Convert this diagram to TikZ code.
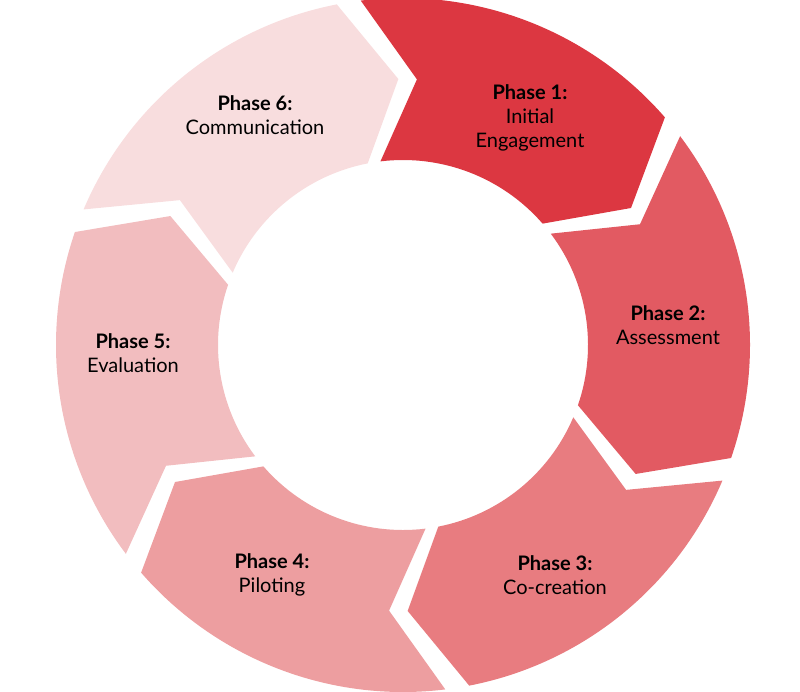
\documentclass[tikz,border=0pt]{standalone}
\usepackage{fontspec}
\setmainfont{Lato}
\definecolor{c1}{RGB}{220,55,65}
\definecolor{c2}{RGB}{226,90,98}
\definecolor{c3}{RGB}{232,124,128}
\definecolor{c4}{RGB}{237,158,160}
\definecolor{c5}{RGB}{242,189,191}
\definecolor{c6}{RGB}{248,221,222}
\tikzset{lbl/.style={align=center,font=\fontsize{20}{24}\selectfont}}
\begin{document}
\begin{tikzpicture}[x=1pt,y=1pt]
\useasboundingbox (0,0) rectangle (800,-691);
\def\R{347}\def\r{185}\def\m{266}\def\d{10}
\foreach \k/\col in {1/c1,2/c2,3/c3,4/c4,5/c5,6/c6}{
  \pgfmathsetmacro\a{97-60*(\k-1)}
  \pgfmathsetmacro\b{\a-56}
  \pgfmathsetmacro\an{\a-\d}
  \pgfmathsetmacro\bn{\b-\d}
  \fill[\col,shift={(403,-345)}] (\a:\R) arc[start angle=\a,end angle=\b,radius=\R] -- (\bn:\m) -- (\b:\r) arc[start angle=\b,end angle=\a,radius=\r] -- (\an:\m) -- cycle;
}
\node[lbl] (p1) at (530,-118) {\textbf{Phase 1:}\\Initial\\Engagement};
\node[lbl] (p2) at (668,-325) {\textbf{Phase 2:}\\Assessment};
\node[lbl] (p3) at (555,-575) {\textbf{Phase 3:}\\Co-creation};
\node[lbl] (p4) at (272,-575) {\textbf{Phase 4:}\\Piloting};
\node[lbl] (p5) at (133,-353) {\textbf{Phase 5:}\\Evaluation};
\node[lbl] (p6) at (255,-115) {\textbf{Phase 6:}\\Communication};
\end{tikzpicture}
\end{document}
